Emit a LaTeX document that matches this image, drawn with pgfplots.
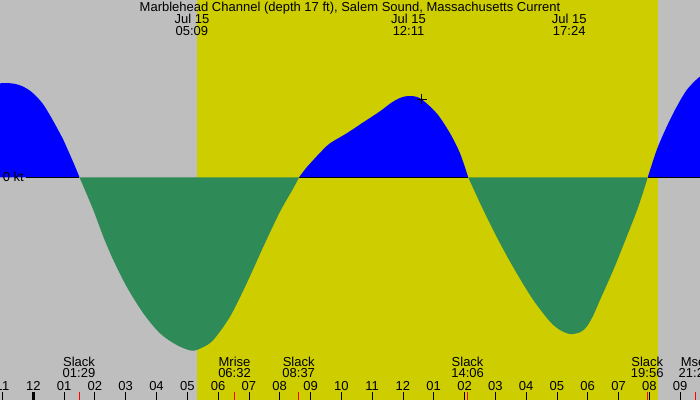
\documentclass[border=0pt]{standalone}
\usepackage{pgfplots}
\pgfplotsset{compat=1.18}
\usepackage{fontspec}
\setmainfont{Liberation Sans}
\definecolor{bggray}{RGB}{190,190,190}
\definecolor{dayyellow}{RGB}{205,205,0}
\definecolor{floodblue}{RGB}{0,0,255}
\definecolor{ebbgreen}{RGB}{46,139,87}
\tikzset{lbl/.style={font=\fontsize{13}{15}\selectfont, inner sep=0pt, anchor=base, text=black}}
\begin{document}
\begin{tikzpicture}
\begin{axis}[
  width=700pt, height=400pt, scale only axis,
  xmin=-1.081, xmax=21.646, ymin=-2.227, ymax=1.773,
  axis line style={draw=none},
  axis background/.style={fill=bggray},
  axis on top,
  ytick=\empty,
  xtick={-1,0,...,21},
  xticklabels={11,12,01,02,03,04,05,06,07,08,09,10,11,12,01,02,03,04,05,06,07,08,09},
  xtick pos=bottom, xtick align=inside,
  major tick length=8.5pt,
  tick style={black, line width=0.8pt},
  xticklabel style={anchor=base, yshift=10pt, font=\fontsize{13}{15}\selectfont, inner sep=0pt},
  extra x ticks={1.483,6.533,8.617,14.1,19.933,21.483},
  extra x tick labels={},
  extra x tick style={tick style={red, line width=0.8pt}},
]
% daylight
\addplot[fill=dayyellow, draw=none] coordinates {(5.325,-2.227) (5.325,1.773) (20.273,1.773) (20.273,-2.227)};
% flood (blue)
\addplot[fill=floodblue, draw=none, smooth] coordinates {(-1.081,0.94) (-0.85,0.942) (-0.6,0.935) (-0.35,0.91) (-0.107,0.866) (0.110,0.806) (0.325,0.728) (0.542,0.62) (0.760,0.50) (0.974,0.375) (1.192,0.225) (1.354,0.11) (1.50,0)} \closedcycle;
\addplot[fill=floodblue, draw=none, smooth] coordinates {(8.63,0) (8.85,0.09) (9.091,0.173) (9.35,0.258) (9.633,0.34) (10.175,0.44) (10.714,0.55) (11.257,0.66) (11.6,0.74) (11.9,0.793) (12.176,0.813) (12.557,0.79) (13.097,0.64) (13.529,0.44) (13.854,0.24) (14.12,0)} \closedcycle;
\addplot[fill=floodblue, draw=none, smooth] coordinates {(19.95,0) (20.240,0.273) (20.565,0.506) (20.890,0.706) (21.214,0.873) (21.539,0.98) (21.646,1.006)} \closedcycle;
% zero line
\addplot[black, line width=1pt] coordinates {(-0.237,0) (1.5,0)};
\addplot[black, line width=1pt] coordinates {(8.63,0) (14.12,0)};
\addplot[black, line width=1pt] coordinates {(19.95,0) (21.646,0)};
% ebb (green)
\addplot[fill=ebbgreen, draw=none, smooth] coordinates {(1.50,0) (1.948,-0.327) (2.273,-0.594) (2.597,-0.827) (3.032,-1.094) (3.571,-1.36) (4.113,-1.56) (4.656,-1.677) (5.15,-1.734) (5.5,-1.70) (5.844,-1.627) (6.386,-1.394) (6.929,-1.06) (7.468,-0.694) (8.010,-0.344) (8.442,-0.11) (8.63,0)} \closedcycle;
\addplot[fill=ebbgreen, draw=none, smooth] coordinates {(14.12,0) (14.610,-0.327) (15.153,-0.66) (15.695,-0.96) (16.234,-1.227) (16.776,-1.444) (17.101,-1.527) (17.425,-1.567) (17.75,-1.55) (17.968,-1.494) (18.18,-1.38) (18.399,-1.227) (18.831,-0.927) (19.266,-0.594) (19.643,-0.294) (19.95,0)} \closedcycle;
% marker
\addplot[only marks, mark=+, mark size=5pt, black, line width=0.8pt] coordinates {(12.61,0.78)};
% midnight tick
\addplot[black, line width=3pt] coordinates {(0,-2.227) (0,-2.142)};
% texts
\node[lbl, anchor=base west] at (axis cs:-0.994,-0.037) {0 kt};
\node[lbl] at (axis cs:10.283,1.66) {Marblehead Channel (depth 17 ft), Salem Sound, Massachusetts Current};
\node[lbl] at (axis cs:5.15,1.533) {Jul 15};
\node[lbl] at (axis cs:5.15,1.413) {05:09};
\node[lbl] at (axis cs:12.183,1.533) {Jul 15};
\node[lbl] at (axis cs:12.183,1.413) {12:11};
\node[lbl] at (axis cs:17.4,1.533) {Jul 15};
\node[lbl] at (axis cs:17.4,1.413) {17:24};
\node[lbl] at (axis cs:1.483,-1.887) {Slack};
\node[lbl] at (axis cs:1.483,-2.004) {01:29};
\node[lbl] at (axis cs:6.533,-1.887) {Mrise};
\node[lbl] at (axis cs:6.533,-2.004) {06:32};
\node[lbl] at (axis cs:8.617,-1.887) {Slack};
\node[lbl] at (axis cs:8.617,-2.004) {08:37};
\node[lbl] at (axis cs:14.1,-1.887) {Slack};
\node[lbl] at (axis cs:14.1,-2.004) {14:06};
\node[lbl] at (axis cs:19.933,-1.887) {Slack};
\node[lbl] at (axis cs:19.933,-2.004) {19:56};
\node[lbl] at (axis cs:21.483,-1.887) {Mset};
\node[lbl] at (axis cs:21.483,-2.004) {21:29};
\end{axis}
\pgfresetboundingbox
\useasboundingbox (current axis.south west) rectangle (current axis.north east);
\end{tikzpicture}
\end{document}
